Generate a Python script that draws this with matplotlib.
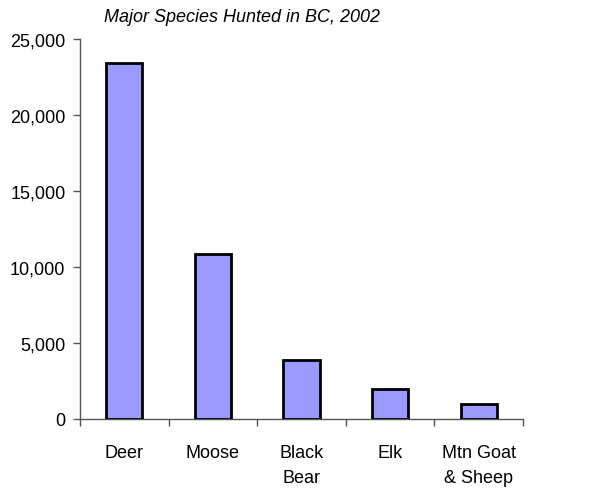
import matplotlib.pyplot as plt
import numpy as np
from matplotlib.ticker import FuncFormatter

plt.rcParams['font.family'] = ['Liberation Sans', 'DejaVu Sans']

species = ["Deer", "Moose", "Black\nBear", "Elk", "Mtn Goat\n& Sheep"]
hunted = [23450, 10850, 3900, 1970, 990]
y_ticks = [0, 5000, 10000, 15000, 20000, 25000]

fig = plt.figure(figsize=(6.16, 4.89), dpi=100)
ax = fig.add_axes([80/616, 1 - 420/489, 443/616, 380/489])

x = np.arange(len(species))
ax.bar(x, hunted, width=0.41, color="#9999FF", edgecolor="black", linewidth=2, zorder=3)

ax.set_xlim(-0.5, len(species) - 0.5)
ax.set_ylim(0, 25000)
ax.set_yticks(y_ticks)
ax.yaxis.set_major_formatter(FuncFormatter(lambda v, p: f"{int(v):,}"))

# labels in the middle of each category, tick marks between them
ax.set_xticks(x)
ax.set_xticklabels(species, linespacing=1.65)
ax.set_xticks(np.arange(len(species) + 1) - 0.5, minor=True)
ax.tick_params(axis="x", which="major", length=0, pad=18, labelsize=13)
ax.tick_params(axis="x", which="minor", length=5, width=1, color="#555555")
ax.tick_params(axis="y", length=5, width=1, color="#555555", labelsize=13, pad=5.5)

for s in ["top", "right"]:
    ax.spines[s].set_visible(False)
for s in ["left", "bottom"]:
    ax.spines[s].set_color("#555555")
    ax.spines[s].set_linewidth(1)

fig.text(242/616, 1 - 18/489, "Major Species Hunted in BC, 2002", ha="center", va="center",
         fontsize=13, style="italic")

fig.savefig("out.png", dpi=100)
